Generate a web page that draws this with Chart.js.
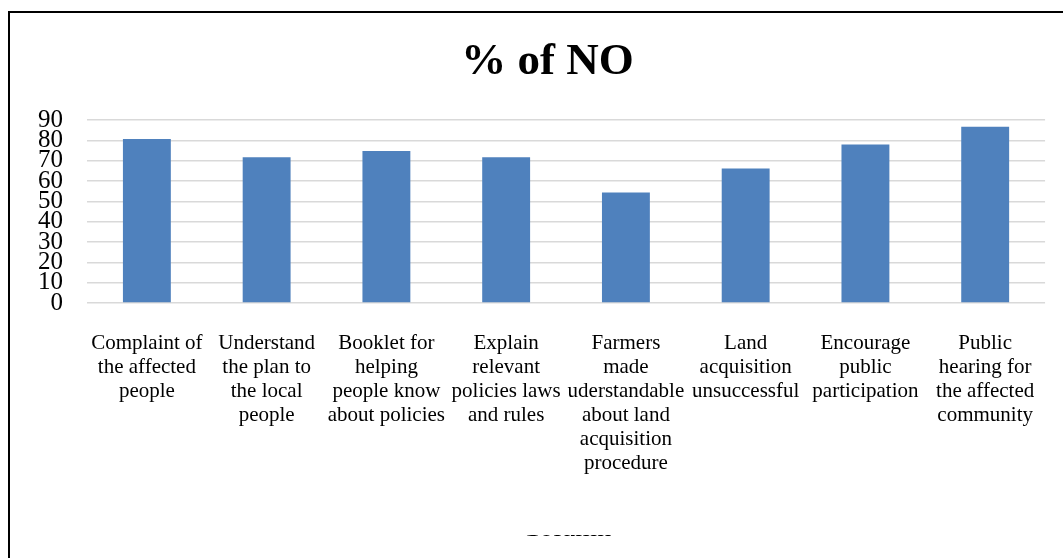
<!DOCTYPE html>
<html>
<head>
<meta charset="utf-8">
<script src="https://cdn.jsdelivr.net/npm/chart.js@4/dist/chart.umd.min.js"></script>
<style>
  html, body { margin: 0; padding: 0; background: #ffffff; }
  #wrap { position: absolute; left: 0; top: 0; width: 1063px; height: 558px; }
  #frame { position: absolute; left: 8px; top: 11px; width: 1055px; height: 547px;
           border-top: 2px solid #000; border-left: 2px solid #000; box-sizing: border-box;
           pointer-events: none; }
</style>
</head>
<body>
<div id="wrap">
  <canvas id="c" width="1063" height="558"></canvas>
  <div id="frame"></div>
</div>
<script>
const chartTitle = "% of NO";
const axisTitle = "Column";
const categories = [
  ["Complaint of", "the affected", "people"],
  ["Understand", "the plan to", "the local", "people"],
  ["Booklet for", "helping", "people know", "about policies"],
  ["Explain", "relevant", "policies laws", "and rules"],
  ["Farmers", "made", "uderstandable", "about land", "acquisition", "procedure"],
  ["Land", "acquisition", "unsuccessful"],
  ["Encourage", "public", "participation"],
  ["Public", "hearing for", "the affected", "community"]
];
const values = [80.7, 71.7, 74.8, 71.7, 54.4, 66.2, 77.9, 86.7];
const yTicks = [0, 10, 20, 30, 40, 50, 60, 70, 80, 90];

const serif = "'Liberation Serif', 'Times New Roman', serif";

const coverPlugin = {
  id: 'coverTitle',
  afterDraw(chart) {
    const ctx = chart.ctx;
    ctx.save();
    ctx.fillStyle = '#ffffff';
    ctx.fillRect(12, 495, 1051, 40);
    ctx.restore();
  }
};

new Chart(document.getElementById('c'), {
  type: 'bar',
  data: {
    labels: categories,
    datasets: [{
      data: values,
      backgroundColor: '#4f81bd',
      borderWidth: 0,
      categoryPercentage: 1.0,
      barPercentage: 0.4
    }]
  },
  options: {
    responsive: false,
    animation: false,
    layout: { padding: { left: 32, right: 0, top: 0, bottom: 0 } },
    plugins: {
      legend: { display: false },
      tooltip: { enabled: false },
      title: {
        display: true,
        text: chartTitle,
        color: '#000',
        font: { family: serif, size: 45, weight: 'bold', lineHeight: 1.2 },
        padding: { top: 35, bottom: 31 }
      }
    },
    scales: {
      x: {
        grid: { display: false, drawTicks: false },
        border: { display: false },
        ticks: {
          color: '#000',
          font: { family: serif, size: 21, lineHeight: 1.15 },
          maxRotation: 0, minRotation: 0, autoSkip: false,
          padding: 28
        },
        title: {
          display: true,
          text: axisTitle,
          color: '#000',
          font: { family: serif, size: 28, lineHeight: 1.2 },
          padding: { top: 0, bottom: 13 }
        },
        afterFit(scale) { scale.height = 255; }
      },
      y: {
        min: 0, max: 90,
        afterBuildTicks(scale) { scale.ticks = yTicks.map(v => ({ value: v })); },
        grid: { color: '#d9d9d9', lineWidth: 1.5, drawTicks: false },
        border: { display: false },
        ticks: {
          color: '#000',
          font: { family: serif, size: 25, lineHeight: 1.0 },
          autoSkip: false,
          padding: 24
        },
        afterFit(scale) { scale.width = 55; }
      },
      yRight: {
        type: 'linear',
        position: 'right',
        display: true,
        grid: { display: false, drawTicks: false },
        border: { display: false },
        ticks: { display: false },
        afterFit(scale) { scale.width = 12; }
      }
    }
  },
  plugins: [coverPlugin]
});
</script>
</body>
</html>
